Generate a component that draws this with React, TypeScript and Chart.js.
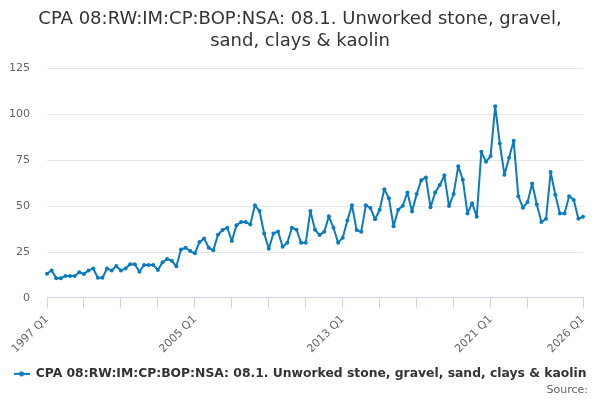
import React, { useEffect, useRef } from "react";
import { Chart, registerables } from "chart.js";

Chart.register(...registerables);

const FONT = "'DejaVu Sans', 'Liberation Sans', sans-serif";

const TITLE_LINES = [
  "CPA 08:RW:IM:CP:BOP:NSA: 08.1. Unworked stone, gravel,",
  "sand, clays & kaolin",
];
const SERIES_NAME =
  "CPA 08:RW:IM:CP:BOP:NSA: 08.1. Unworked stone, gravel, sand, clays & kaolin";
const SOURCE_TEXT = "Source:";

// Quarterly categories 1997 Q1 .. 2026 Q1
const FIRST_YEAR = 1997;
const LAST_YEAR = 2026;
const categories: string[] = [];
for (let y = FIRST_YEAR; y <= LAST_YEAR; y++) {
  for (let q = 1; q <= 4; q++) {
    if (y === LAST_YEAR && q > 1) break;
    categories.push(`${y} Q${q}`);
  }
}

// Values, one row per year (Q1..Q4)
const values: number[] = [
  13.2, 15.0, 10.8, 10.8, // 1997
  12.0, 12.0, 12.0, 14.0, // 1998
  13.0, 15.0, 16.0, 11.0, // 1999
  11.0, 16.0, 15.0, 17.4, // 2000
  15.0, 16.0, 18.3, 18.3, // 2001
  14.3, 18.0, 18.0, 18.0, // 2002
  15.2, 19.4, 21.2, 20.3, // 2003
  17.2, 26.4, 27.3, 25.5, // 2004
  24.3, 30.4, 32.4, 27.3, // 2005
  25.9, 34.4, 37.0, 38.2, // 2006
  31.0, 39.5, 41.3, 41.3, // 2007
  40.0, 50.4, 47.3, 35.1, // 2008
  26.8, 35.1, 36.2, 27.9, // 2009
  30.0, 38.2, 37.1, 30.0, // 2010
  30.0, 47.3, 37.1, 34.2, // 2011
  36.0, 44.4, 38.2, 30.1, // 2012
  32.8, 42.2, 50.5, 37.0, // 2013
  36.0, 50.4, 49.0, 42.8, // 2014
  48.0, 59.2, 54.2, 39.0, // 2015
  48.0, 50.2, 57.4, 47.1, // 2016
  56.5, 64.1, 65.6, 49.3, // 2017
  57.4, 61.4, 66.7, 50.0, // 2018
  56.5, 71.7, 64.3, 46.0, // 2019
  51.6, 44.2, 79.5, 74.1, // 2020
  77.2, 104.3, 84.0, 67.0, // 2021
  76.3, 85.5, 55.4, 49.1, // 2022
  52.2, 62.3, 50.9, 41.3, // 2023
  43.1, 68.5, 56.2, 46.0, // 2024
  46.0, 55.4, 53.3, 43.1, // 2025
  44.2, // 2026
];

const X_TICK_LABELS = ["1997 Q1", "2005 Q1", "2013 Q1", "2021 Q1", "2026 Q1"];
const X_TICK_MARKS = [
  "1997 Q1", "1999 Q1", "2001 Q1", "2003 Q1", "2005 Q1", "2007 Q1", "2009 Q1",
  "2011 Q1", "2013 Q1", "2015 Q1", "2017 Q1", "2019 Q1", "2021 Q1", "2023 Q1",
  "2026 Q1",
];
const Y_MIN = 0;
const Y_MAX = 125;
const Y_STEP = 25;

const LINE_COLOR = "#0b7bc1";
const TEXT_DARK = "#333333";
const TEXT_MUTED = "#666666";
const GRID_COLOR = "#e6e6e6";
const AXIS_COLOR = "#ccd6eb";

function makeLegendSymbol(): HTMLCanvasElement {
  const c = document.createElement("canvas");
  c.width = 16;
  c.height = 10;
  const g = c.getContext("2d")!;
  g.strokeStyle = LINE_COLOR;
  g.lineWidth = 2;
  g.beginPath();
  g.moveTo(0, 5);
  g.lineTo(16, 5);
  g.stroke();
  g.fillStyle = LINE_COLOR;
  g.beginPath();
  g.arc(8, 5, 2.5, 0, Math.PI * 2);
  g.fill();
  return c;
}

const sourcePlugin = {
  id: "sourceText",
  afterDraw(chart: any) {
    const { ctx, width, height } = chart;
    ctx.save();
    ctx.font = `11px ${FONT}`;
    ctx.fillStyle = TEXT_MUTED;
    ctx.textAlign = "right";
    ctx.textBaseline = "middle";
    ctx.fillText(SOURCE_TEXT, width - 12, height - 10);
    ctx.restore();
  },
};

export default function App() {
  const ref = useRef<HTMLCanvasElement | null>(null);

  useEffect(() => {
    if (!ref.current) return;
    const symbol = makeLegendSymbol();
    const chart = new Chart(ref.current, {
      type: "line",
      data: {
        labels: categories,
        datasets: [
          {
            label: SERIES_NAME,
            data: values,
            borderColor: LINE_COLOR,
            backgroundColor: LINE_COLOR,
            borderWidth: 2,
            borderJoinStyle: "round",
            borderCapStyle: "round",
            pointRadius: 2,
            pointHoverRadius: 3,
            pointBackgroundColor: LINE_COLOR,
            pointBorderWidth: 0,
            tension: 0,
            fill: false,
            yAxisID: "y",
          },
        ],
      },
      options: {
        responsive: false,
        animation: false,
        layout: { padding: { left: 0, right: 0, top: 0, bottom: 10 } },
        scales: {
          x: {
            type: "category",
            offset: false,
            border: { display: true, color: AXIS_COLOR, width: 1 },
            grid: {
              drawOnChartArea: false,
              drawTicks: true,
              tickLength: 10,
              color: (ctx: any) => {
                const lab = categories[ctx.index];
                return X_TICK_MARKS.includes(lab) ? AXIS_COLOR : "rgba(0,0,0,0)";
              },
            },
            ticks: {
              autoSkip: false,
              minRotation: 45,
              maxRotation: 45,
              padding: 5,
              color: TEXT_MUTED,
              font: { family: FONT, size: 11 },
              callback: (_v: any, idx: number) => {
                const lab = categories[idx];
                return X_TICK_LABELS.includes(lab) ? lab : "";
              },
            },
            afterFit: (scale: any) => {
              scale.height = scale.height - 3;
            },
          },
          y: {
            position: "left",
            min: Y_MIN,
            max: Y_MAX,
            border: { display: false },
            grid: { color: GRID_COLOR, drawTicks: false, lineWidth: 1 },
            ticks: {
              stepSize: Y_STEP,
              padding: 17,
              color: TEXT_MUTED,
              font: { family: FONT, size: 11 },
            },
            afterFit: (scale: any) => {
              scale.width = 47;
            },
          },
          yRightSpacer: {
            position: "right",
            display: true,
            min: Y_MIN,
            max: Y_MAX,
            border: { display: false },
            grid: { display: false, drawOnChartArea: false },
            ticks: { display: false },
            afterFit: (scale: any) => {
              scale.width = 17;
            },
          },
        },
        plugins: {
          title: {
            display: true,
            text: TITLE_LINES,
            color: TEXT_DARK,
            font: { family: FONT, size: 18, weight: "normal", lineHeight: 1.2 },
            padding: { top: 9, bottom: 16 },
          },
          legend: {
            display: true,
            position: "bottom",
            labels: {
              usePointStyle: true,
              pointStyle: symbol as any,
              pointStyleWidth: 16,
              boxHeight: 10,
              color: TEXT_DARK,
              font: { family: FONT, size: 12.35, weight: "bold" },
              padding: 10,
              generateLabels: () => [
                {
                  text: SERIES_NAME,
                  pointStyle: symbol as any,
                  fillStyle: LINE_COLOR,
                  strokeStyle: LINE_COLOR,
                  lineWidth: 0,
                  hidden: false,
                  datasetIndex: 0,
                  fontColor: TEXT_DARK,
                } as any,
              ],
            },
          },
          tooltip: { enabled: false },
        },
      },
      plugins: [sourcePlugin],
    });
    return () => chart.destroy();
  }, []);

  return (
    <div
      style={{
        position: "fixed",
        left: 0,
        top: 0,
        width: 600,
        height: 400,
        background: "#ffffff",
      }}
    >
      <canvas ref={ref} width={600} height={400} style={{ width: 600, height: 400 }} />
    </div>
  );
}
